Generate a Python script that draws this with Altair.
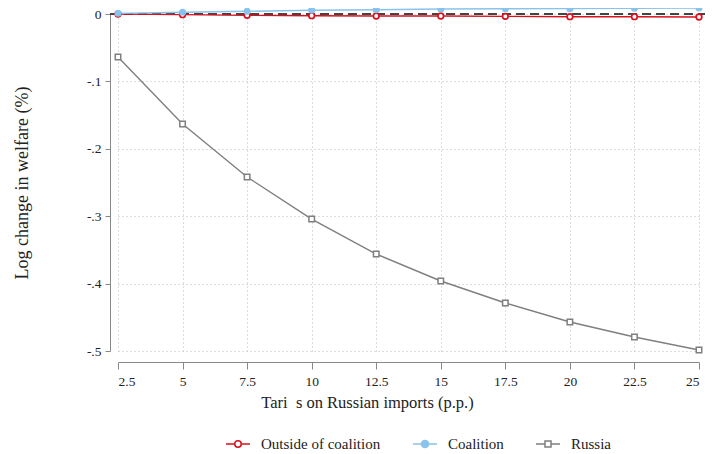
import altair as alt
import pandas as pd

tariffs = [2.5, 5, 7.5, 10, 12.5, 15, 17.5, 20, 22.5, 25]
outside = [0.0, -0.0010, -0.0020, -0.0025, -0.0030, -0.0030, -0.0035, -0.0040, -0.0040, -0.0045]
coalition = [0.0010, 0.0025, 0.0040, 0.0055, 0.0064, 0.0074, 0.0077, 0.0079, 0.0084, 0.0089]
russia = [-0.0638, -0.1632, -0.2418, -0.3042, -0.3561, -0.3961, -0.4288, -0.4570, -0.4792, -0.4985]

names = ["Outside of coalition", "Coalition", "Russia"]
colors = ["#d7111e", "#89c3eb", "#7f7f7f"]
y_ticks = [0, -0.1, -0.2, -0.3, -0.4, -0.5]

rows = []
for nm, vals in zip(names, [outside, coalition, russia]):
    for t, v in zip(tariffs, vals):
        rows.append({"tariff": t, "value": v, "series": nm})
df = pd.DataFrame(rows)

FONT = "Liberation Serif"
W, H = 581, 337

xenc = alt.X("tariff:Q", scale=alt.Scale(domain=[2.5, 25], nice=False, zero=False),
             axis=alt.Axis(values=tariffs, labelExpr="toString(datum.value)", offset=11,
                           tickSize=7, labelPadding=5, title="Tari\u2002s on Russian imports (p.p.)",
                           titleFontSize=16.5, titlePadding=7, labelFontSize=13.5,
                           titleX=249, titleAnchor="start", titleAlign="center",
                           grid=True, gridDash=[1, 3], gridColor="#bbbbbb"))
yenc = alt.Y("value:Q", scale=alt.Scale(domain=[-0.5, 0], nice=False, zero=False),
             axis=alt.Axis(values=y_ticks,
                           labelExpr="datum.value == 0 ? '0' : '-.' + format(-datum.value*10, 'd')",
                           offset=8, tickSize=5, labelPadding=4, title="Log change in welfare (%)",
                           titleFontSize=18, titlePadding=55, labelFontSize=13.5,
                           grid=True, gridDash=[1, 3], gridColor="#bbbbbb"))

zero = alt.Chart(pd.DataFrame({"y": [0.0]})).mark_rule(
    strokeDash=[9, 5], color="#444444", strokeWidth=1.8
).encode(y=alt.Y("y:Q"), x=alt.value(-8), x2=alt.value(W + 8))

base = alt.Chart(df)

# invisible layer carrying the axes and the legend
paths = [
    "M-1,0H-0.27M0.27,0H1M0.27,0A0.27,0.27 0 1,1 -0.27,0A0.27,0.27 0 1,1 0.27,0Z",
    "M-1,0H-0.3M0.3,0H1M0.3,0A0.3,0.3 0 1,1 -0.3,0A0.3,0.3 0 1,1 0.3,0Z",
    "M-1,0H-0.25M0.25,0H1M0.25,0.25H-0.25V-0.25H0.25Z",
]
fills = ["white", "#89c3eb", "white"]
leg = alt.Legend(title=None, orient="none", legendX=107, legendY=417, direction="horizontal",
                 symbolSize=576, symbolStrokeWidth=1.5, columnPadding=29, labelOffset=10,
                 labelFontSize=15, labelFont=FONT, symbolOpacity=1)
legend_layer = base.mark_point(opacity=0).encode(
    x=xenc, y=yenc,
    shape=alt.Shape("series:N", scale=alt.Scale(domain=names, range=paths), legend=leg),
    stroke=alt.Stroke("series:N", scale=alt.Scale(domain=names, range=colors), legend=leg),
    fill=alt.Fill("series:N", scale=alt.Scale(domain=names, range=fills), legend=leg),
)

layers = [zero, legend_layer]
marker = {
    names[0]: dict(shape="circle", filled=False, fill="white", size=32, strokeWidth=1.7),
    names[1]: dict(shape="circle", filled=True, size=50),
    names[2]: dict(shape="square", filled=False, fill="white", size=30, strokeWidth=1.5),
}
order = [2, 0, 1]
for i in order:
    sub = base.transform_filter(alt.datum.series == names[i])
    layers.append(sub.mark_line(strokeWidth=1.4, color=colors[i]).encode(x="tariff:Q", y="value:Q"))
for i in order:
    sub = base.transform_filter(alt.datum.series == names[i])
    layers.append(sub.mark_point(color=colors[i], opacity=1, **marker[names[i]]).encode(x="tariff:Q", y="value:Q"))

chart = alt.layer(*layers).properties(
    width=W, height=H,
    padding={"left": 110, "top": 6, "right": 6, "bottom": 100},
    autosize="none",
).configure_view(stroke=None).configure_axis(
    labelFont=FONT, titleFont=FONT, domainColor="#888888", tickColor="#888888",
    labelColor="#222222", titleColor="#222222", titleFontWeight="normal"
).configure_legend(labelColor="#222222")

chart.save("out.html", embed_options={"renderer": "svg", "actions": False})
